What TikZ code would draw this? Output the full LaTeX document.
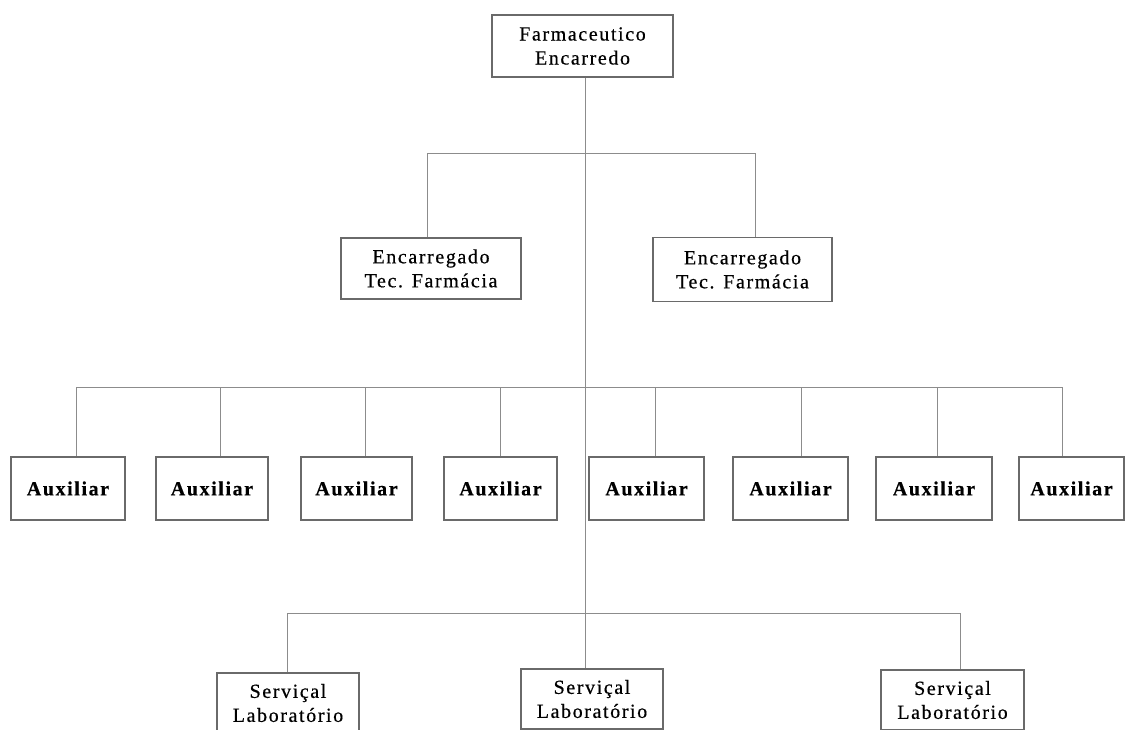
\documentclass[tikz,border=0pt]{standalone}
\usepackage{fontspec}
\setmainfont{Liberation Serif}
\newfontfamily\orgfont[LetterSpace=8,FakeBold=0.5]{Liberation Serif}
\usetikzlibrary{calc}
\definecolor{boxline}{HTML}{6A6A6A}
\definecolor{linkline}{HTML}{8C8C8C}

\begin{document}
\begin{tikzpicture}[x=1pt,y=-1pt,
  orgbox/.style 2 args={draw=boxline, line width=1.1pt, fill=white,
    minimum width=#1pt, minimum height=#2pt, inner sep=0pt,
    align=center, font=\orgfont\fontsize{20}{24}\selectfont},
  auxbox/.style={orgbox={#1}{63}, font=\orgfont\bfseries\fontsize{20}{24}\selectfont},
  link/.style={draw=linkline, line width=0.8pt}]

\useasboundingbox (0,0) rectangle (1125,729);
\clip (0,0) rectangle (1125,729);

% head of the chart
\node[orgbox={181}{62}] (head) at (582.5,46) {Farmaceutico\\Encarredo};

% second level
\node[orgbox={180}{61}] (encL) at (431,268.5) {Encarregado\\Tec. Farmácia};
\node[orgbox={179}{64}] (encR) at (742.5,269.5) {Encarregado\\Tec. Farmácia};

% third level
\node[auxbox=114] (a1) at (68,488.5) {Auxiliar};
\node[auxbox=112] (a2) at (212,488.5) {Auxiliar};
\node[auxbox=111] (a3) at (356.5,488.5) {Auxiliar};
\node[auxbox=113] (a4) at (500.5,488.5) {Auxiliar};
\node[auxbox=115] (a5) at (646.5,488.5) {Auxiliar};
\node[auxbox=115] (a6) at (790.5,488.5) {Auxiliar};
\node[auxbox=116] (a7) at (934,488.5) {Auxiliar};
\node[auxbox=105] (a8) at (1071.5,488.5) {Auxiliar};

% bottom level
\node[orgbox={142}{60}] (s1) at (288,703) {Serviçal\\Laboratório};
\node[orgbox={142}{60}] (s2) at (592,699) {Serviçal\\Laboratório};
\node[orgbox={143}{60}] (s3) at (952.5,700) {Serviçal\\Laboratório};

% junction points of the connectors
\coordinate (t1) at (585.5,153);
\coordinate (t2) at (585.5,387);
\coordinate (t3) at (585.5,613);
\coordinate (e1) at (427,153);
\coordinate (e2) at (755,153);
\foreach \i/\x in {1/76,2/220,3/365,4/500,5/655,6/801,7/937,8/1062}
  \coordinate (d\i) at (\x,387);
\coordinate (v1) at (287,613);
\coordinate (v3) at (960,613);

% trunk
\draw[link] (head.south -| t1) -- (t3) -- (t3 |- s2.north);

% branch to second level
\draw[link] (e1 |- encL.north) -- (e1) -- (e2) -- (e2 |- encR.north);

% branch to third level
\draw[link] (d1) -- (d8);
\foreach \i in {1,...,8}
  \draw[link] (d\i) -- (d\i |- a\i.north);

% branch to bottom level
\draw[link] (v1 |- s1.north) -- (v1) -- (v3) -- (v3 |- s3.north);

\end{tikzpicture}
\end{document}
